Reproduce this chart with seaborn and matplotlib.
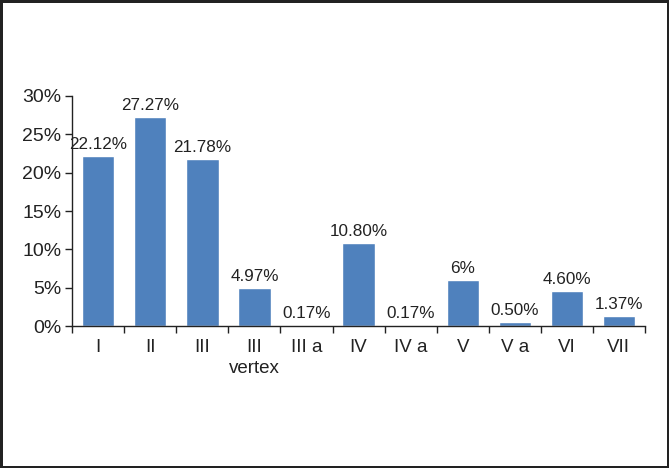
import numpy as np
import pandas as pd
import seaborn as sns
import matplotlib.pyplot as plt
from matplotlib.ticker import FuncFormatter, FixedLocator

sns.set_style("white")
plt.rcParams['font.family'] = ['Liberation Sans', 'DejaVu Sans']

categories = ['I', 'II', 'III', 'III\nvertex', 'III a', 'IV', 'IV a', 'V', 'V a', 'VI', 'VII']
values = [22.12, 27.27, 21.78, 4.97, 0.17, 10.80, 0.17, 6.0, 0.50, 4.60, 1.37]
value_labels = ['22.12%', '27.27%', '21.78%', '4.97%', '0.17%', '10.80%',
                '0.17%', '6%', '0.50%', '4.60%', '1.37%']

df = pd.DataFrame({'cat': categories, 'val': values})

fig = plt.figure(figsize=(6.69, 4.68), dpi=100)
fig.patch.set_edgecolor('#222222')
fig.patch.set_linewidth(2.2)
ax = fig.add_axes([0.108, 0.303, 0.856, 0.492])

sns.barplot(data=df, x='cat', y='val', color='#4F81BD', width=0.62,
            saturation=1, ax=ax)

ax.bar_label(ax.containers[0], labels=value_labels, padding=3, fontsize=12.3, color='#222222')

ax.set_ylim(0, 30)
ax.set_yticks(np.arange(0, 31, 5))
ax.yaxis.set_major_formatter(FuncFormatter(lambda v, p: f'{v:.0f}%'))
ax.set_xlim(-0.5, len(categories) - 0.5)
ax.xaxis.set_minor_locator(FixedLocator(np.arange(-0.5, len(categories), 1)))
ax.tick_params(axis='x', which='major', bottom=True, length=0, pad=9, labelsize=13.5,
               labelcolor='#222222')
ax.tick_params(axis='x', which='minor', bottom=True, length=5, width=1, color='#222222',
               direction='out')
ax.tick_params(axis='y', which='major', left=True, length=5, width=1, color='#222222',
               direction='out', labelsize=14, labelcolor='#222222', pad=3)
for lbl in ax.get_xticklabels():
    lbl.set_linespacing(1.35)
ax.set_xlabel('')
ax.set_ylabel('')

sns.despine(ax=ax)
for s in ['left', 'bottom']:
    ax.spines[s].set_color('#222222')
    ax.spines[s].set_linewidth(1)

fig.savefig('out.png', dpi=100, edgecolor=fig.get_edgecolor())
